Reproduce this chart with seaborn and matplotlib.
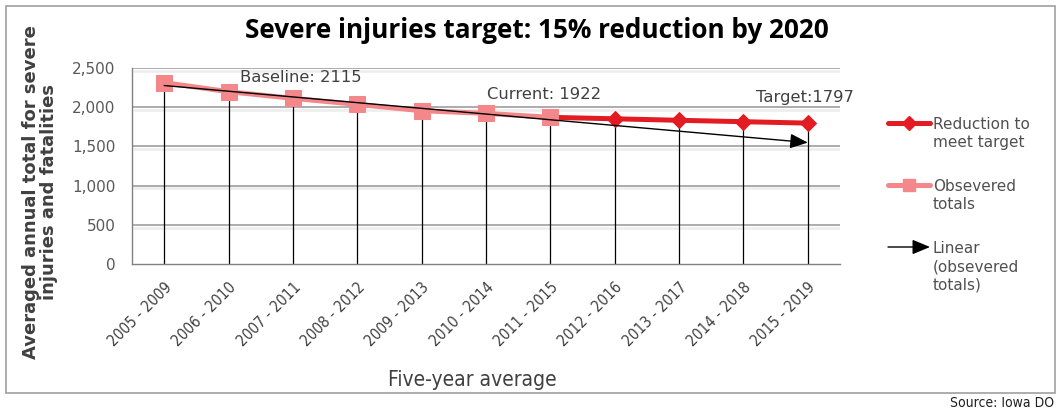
import numpy as np
import pandas as pd
import seaborn as sns
import matplotlib
matplotlib.use("Agg")
import matplotlib.pyplot as plt
from matplotlib.lines import Line2D
from matplotlib.patches import Rectangle, FancyArrowPatch
import matplotlib.patheffects as pe

# ---------------- data ----------------
periods = ["2005 - 2009", "2006 - 2010", "2007 - 2011", "2008 - 2012", "2009 - 2013",
           "2010 - 2014", "2011 - 2015", "2012 - 2016", "2013 - 2017", "2014 - 2018",
           "2015 - 2019"]
observed = [2313, 2198, 2113, 2036, 1955, 1921, 1871]          # Obsevered totals
reduction = [1871, 1852, 1833, 1815, 1797]                    # Reduction to meet target
reduction_start = 6                                           # index of 2011 - 2015
annotations = ["Baseline: 2115", "Current: 1922", "Target:1797"]
yticks = [0, 500, 1000, 1500, 2000, 2500]
title = "Severe injuries target: 15% reduction by 2020"
ylabel = "Averaged annual total for severe\ninjuries and fatalities"
xlabel = "Five-year average"
legend_labels = ["Reduction to\nmeet target", "Obsevered\ntotals", "Linear\n(obsevered\ntotals)"]
source = "Source: Iowa DO"

# ---------------- frames ----------------
obs_df = pd.DataFrame({"x": np.arange(len(observed)), "y": observed})
red_df = pd.DataFrame({"x": np.arange(reduction_start, reduction_start + len(reduction)),
                       "y": reduction})

sns.set_style("white")
plt.rcParams["font.family"] = ["DejaVu Sans"]

W, H = 1056, 412
fig = plt.figure(figsize=(W / 100, H / 100), dpi=100)


def fx(px):
    return px / W


def fy(py):
    return 1 - py / H


ax = fig.add_axes([fx(132), fy(264), fx(840) - fx(132), fy(68) - fy(264)])

RED = "#E31B23"
PINK = "#F3878A"
GREY_TXT = "#404040"
ARROW = "-|>,head_length=0.6,head_width=0.25"

# gridlines with a soft shadow
for v in yticks[1:]:
    ax.axhline(v, color="#a6a6a6", lw=1.3, zorder=0.5,
               path_effects=[pe.SimpleLineShadow(offset=(1.5, -2.0), shadow_color="#ededed",
                                                 alpha=0.9, linewidth=2),
                             pe.Normal()])

# drop lines from the highest series value down to the axis
tops = pd.concat([obs_df, red_df]).groupby("x")["y"].max()
ax.vlines(tops.index, 0, tops.values, color="black", lw=0.9, zorder=2)

# series
sns.lineplot(data=red_df, x="x", y="y", ax=ax, color=RED, lw=3.6, marker="D",
             markersize=8, markeredgecolor=RED, zorder=3, legend=False)
sns.lineplot(data=obs_df, x="x", y="y", ax=ax, color=PINK, lw=3.6, marker="s",
             markersize=11, markeredgecolor=PINK, zorder=4, legend=False)

# linear trend of observed totals, extended to the last period
coef = np.polyfit(obs_df["x"], obs_df["y"], 1)
x_end = len(periods) - 1
ax.annotate("", xy=(x_end, np.polyval(coef, x_end)), xytext=(0, np.polyval(coef, 0)),
            arrowprops=dict(arrowstyle=ARROW, color="black", lw=1.0, mutation_scale=18,
                            shrinkA=0, shrinkB=0),
            zorder=5)

# text annotations
ax.text(1.18, 2385, annotations[0], fontsize=11.8, color=GREY_TXT, va="center", ha="left")
ax.text(5.02, 2160, annotations[1], fontsize=11.8, color=GREY_TXT, va="center", ha="left")
ax.text(9.2, 2120, annotations[2], fontsize=11.8, color=GREY_TXT, va="center", ha="left")

# axes styling
ax.set_xlim(-0.5, len(periods) - 0.5)
ax.set_ylim(0, 2500)
ax.set_yticks(yticks)
ax.set_yticklabels([f"{v:,}" for v in yticks], fontsize=11, color="#595959")
ax.set_xticks(np.arange(len(periods)))
ax.set_xticklabels(periods, rotation=45, ha="right", rotation_mode="anchor",
                   fontsize=11, color=GREY_TXT, fontstretch="condensed")
ax.tick_params(axis="y", direction="out", length=5, color="#808080", pad=7)
ax.tick_params(axis="x", direction="out", length=5, color="#606060", pad=6)
for s in ["top", "right"]:
    ax.spines[s].set_visible(False)
for s in ["left", "bottom"]:
    ax.spines[s].set_color("#808080")
    ax.spines[s].set_linewidth(1.0)
ax.set_xlabel("")
ax.set_ylabel("")

# figure texts
fig.text(fx(537), fy(31), title, fontsize=18.8, fontweight="bold", ha="center", va="center",
         family=["Open Sans", "DejaVu Sans"], color="black")
fig.text(fx(40), fy(192), ylabel, fontsize=13, fontweight="bold", rotation=90,
         ha="center", va="center", color=GREY_TXT, linespacing=0.95)
fig.text(fx(472), fy(380), xlabel, fontsize=15, ha="center", va="center", color=GREY_TXT,
         fontstretch="condensed")
fig.text(fx(1054), fy(403), source, fontsize=10, ha="right", va="center", color="#202020",
         fontstretch="condensed")

# manual legend
leg_rows = [123, 185, 247]
fig.add_artist(Line2D([fx(888), fx(930)], [fy(leg_rows[0])] * 2, color=RED, lw=3.6))
fig.add_artist(Line2D([fx(909)], [fy(leg_rows[0])], color=RED, marker="D", markersize=7, lw=0))
fig.add_artist(Line2D([fx(888), fx(930)], [fy(leg_rows[1])] * 2, color=PINK, lw=3.6))
fig.add_artist(Line2D([fx(909)], [fy(leg_rows[1])], color=PINK, marker="s", markersize=9, lw=0))
fig.add_artist(FancyArrowPatch((fx(888), fy(leg_rows[2])), (fx(930), fy(leg_rows[2])),
                               transform=fig.transFigure, arrowstyle=ARROW,
                               mutation_scale=18, color="black", lw=1.0, shrinkA=0, shrinkB=0))
for row, lab in zip(leg_rows, legend_labels):
    fig.text(fx(933), fy(row - 6), lab, fontsize=11, color="#505050", ha="left", va="top",
             linespacing=1.25)

# outer frame
fig.add_artist(Rectangle((fx(6), fy(393)), fx(1055) - fx(6), fy(6) - fy(393),
                         transform=fig.transFigure, fill=False, edgecolor="#a0a0a0", lw=1.2))

fig.savefig("out.png", dpi=100)
